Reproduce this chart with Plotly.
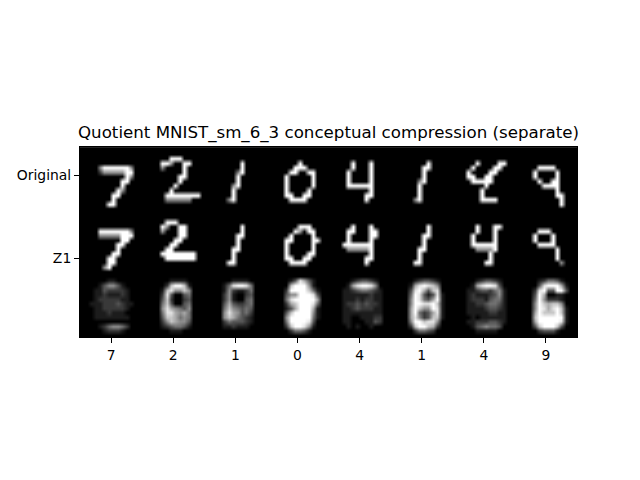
import numpy as np
import plotly.graph_objects as go

# tiles are 14x14 coarse readings of the 28x28 images ('.'=0, '-'=2, '+'=5, '#'=9, digits=grey level)
digit_labels = ["7", "2", "1", "0", "4", "1", "4", "9"]
row_labels = ["Original", "Z1"]

original = [
    ["..............", "..............", "..............", "..............",
     "....+######+..", "....-+++++##..", "..........#+..", ".........##...",
     ".........#....", "........#+....", ".......##.....", ".......#......",
     "......##......", ".............."],
    ["..............", "..............", "......###.....", "....##+..##...",
     "....+....#....", ".........#....", "........##....", "........#.....",
     ".......#......", "......#.......", ".....########.", ".....++++++...",
     "..............", ".............."],
    ["..............", "..............", "..............", "........#.....",
     "........#.....", ".......+#.....", ".......#......", ".......#......",
     "......+#......", "......#.......", "......#.......", ".....+#.......",
     "..............", ".............."],
    ["..............", "..............", "..............", ".......#......",
     "......###.....", ".....##..##...", "....#.....#...", "....#.....#...",
     "....#.....#...", "....#....#....", "....##..##....", ".....####.....",
     "..............", ".............."],
    ["..............", "..............", "..............", ".....#...#....",
     ".....#...#....", "....#....#....", "....#....#....", "....#....#....",
     "....######....", ".........#....", "........##....", "........#.....",
     "..............", ".............."],
    ["..............", "..............", "..............", "........#.....",
     ".......##.....", ".......#......", ".......#......", "......+#......",
     "......#.......", "......#.......", "......#.......", ".....+#.......",
     "..............", ".............."],
    ["..............", "..............", "..............", ".....#....##..",
     "....#....##...", "...#....##....", "...##..##.....", "....#####.....",
     ".......#......", "......#.......", "......#.......", "......####....",
     "..............", ".............."],
    ["..............", "..............", "..............", "..............",
     ".....####.....", "....#....#....", "....#....#....", ".....#..##....",
     "......####....", ".........#....", ".........##...", "..........#...",
     "..........#...", ".............."],
]

z1 = [
    ["..............", "..............", "..............", "..............",
     "....#######+..", "....+++++###..", ".........##...", "........##....",
     "........#.....", ".......##.....", "......##......", "......##......",
     ".....+#.......", ".............."],
    ["..............", "..............", ".....###......", "....#+..##....",
     "....+...##....", "........##....", ".......##.....", "......##......",
     ".....##.......", "....########..", ".....#######..", "..............",
     "..............", ".............."],
    ["..............", "..............", "..............", "........#.....",
     "........#.....", ".......##.....", ".......#......", ".......#......",
     "......##......", "......#.......", "......#.......", ".....##.......",
     "..............", ".............."],
    ["..............", "..............", "..............", ".......###....",
     "......#+.##...", ".....#....#...", "....##....##..", "....#.....#...",
     "....#.....#...", "....#....##...", "....##..##....", ".....####.....",
     "..............", ".............."],
    ["..............", "..............", "..............", ".....#...#....",
     "....##...##...", "....#....##...", "....#....#....", "...#######....",
     "....+++++#....", ".........#....", "........##....", "........#.....",
     "..............", ".............."],
    ["..............", "..............", "..............", "........#.....",
     "........#.....", ".......##.....", ".......#......", ".......#......",
     "......##......", "......#.......", "......#.......", ".....##.......",
     "..............", ".............."],
    ["..............", "..............", "..............", ".....#...##...",
     ".....#...#....", "....#....#....", "....#....#....", "....######....",
     ".....++++#....", "........#.....", "........#.....", ".......##.....",
     "..............", ".............."],
    ["..............", "..............", "..............", "..............",
     ".....###......", "....#...#.....", "....#...#.....", ".....####.....",
     ".........#....", ".........#....", ".........#....", "..........+...",
     "..............", ".............."],
]

compressed = [
    ["00000000000000", "00000011000000", "00001355310000", "00011322221000",
     "00011211121000", "00012222211000", "00111222321100", "00011222221000",
     "00011121110000", "00011111111000", "00000000000000", "00001245542000",
     "00000122210000", "00000000000000"],
    ["00000000000000", "00000011110000", "00000279971000", "00001785575000",
     "00002830034000", "00003720023000", "00004730034000", "00005865435000",
     "00004886564000", "00003776454000", "00002576553000", "00001234431000",
     "00000011100000", "00000000000000"],
    ["00000000000000", "00000011110000", "00001489984000", "00001521124000",
     "00002510023000", "00002510034000", "00003632234000", "00004754343000",
     "00005865342000", "00005764321000", "00002433321000", "00001121110000",
     "00000000000000", "00000000000000"],
    ["00000000000000", "00000138631000", "00000799951000", "00002999974100",
     "00003559998300", "00004899999600", "00002679998400", "00001369996100",
     "00003799995100", "00005999994100", "00004999983000", "00002799851000",
     "00000244310000", "00000000000000"],
    ["00000000000000", "00000123321000", "00001689985000", "00011234432100",
     "00011111121100", "00011121221100", "00012232322100", "00011232221100",
     "00011111111100", "00011001112200", "00011000113200", "00001010010000",
     "00000000000000", "00000000000000"],
    ["00000000000000", "00000123321000", "00001689875000", "00003896378000",
     "00004983138100", "00005984369100", "00005998897100", "00006975598100",
     "00006942368100", "00006852377100", "00005997885000", "00002799762000",
     "00000244320000", "00000000000000"],
    ["00000000000000", "00000123321000", "00001689983000", "00011233245100",
     "00012111235100", "00012221344100", "00011223443100", "00011112332100",
     "00011111221100", "00001011111100", "00011222332100", "00001345443000",
     "00000111110000", "00000000000000"],
    ["00000000000000", "00000124431000", "00000389996100", "00002893399300",
     "00003960011000", "00004952221000", "00005976775000", "00005986897100",
     "00006977797100", "00007999999100", "00006999998100", "00003799973000",
     "00000233310000", "00000000000000"],
]

LEVEL = {".": 0, "-": 2, "+": 5, "#": 9}


def tile_values(tile):
    return [[LEVEL[c] if c in LEVEL else int(c) for c in line] for line in tile]


def strip(tiles):
    return np.hstack([np.array(tile_values(t), dtype=float) for t in tiles])


z = np.vstack([strip(original), strip(z1), strip(compressed)])
n_rows, n_cols = z.shape
scale = 28 / 14
xs = (np.arange(n_cols) + 0.5) * scale
ys = (np.arange(n_rows) + 0.5) * scale

fig = go.Figure(go.Heatmap(
    z=z, x=xs, y=ys, zmin=0, zmax=9, zsmooth="best",
    colorscale=[[0, "black"], [1, "white"]], showscale=False, hoverinfo="skip",
))

# page body adds an 8px margin, so place everything 8px up/left
off = 8
tick_font = dict(family="DejaVu Sans", size=13.9, color="black")
fig.update_layout(
    width=640, height=480,
    margin=dict(l=0, r=0, t=0, b=0),
    paper_bgcolor="white", plot_bgcolor="black",
    xaxis=dict(domain=[(80 - off) / 640, (577 - off) / 640], range=[0, 224],
               tickvals=[14 + 28 * i for i in range(len(digit_labels))],
               ticktext=digit_labels, ticks="outside", ticklen=5, tickwidth=1.1,
               tickcolor="black", showgrid=False, zeroline=False, tickfont=tick_font,
               showline=True, linecolor="black", mirror=True),
    yaxis=dict(domain=[1 - (337.3 - off) / 480, 1 - (147.3 - off) / 480], range=[84, 0],
               tickvals=[12.5, 49], ticktext=row_labels, ticks="outside", ticklen=5,
               tickwidth=1.1, tickcolor="black", showgrid=False, zeroline=False,
               tickfont=tick_font, showline=True, linecolor="black", mirror=True),
    annotations=[dict(
        text="Quotient MNIST_sm_6_3 conceptual compression (separate)",
        xref="paper", yref="paper", x=(328.5 - off) / 640, y=1 - (133 - off) / 480,
        xanchor="center", yanchor="middle", showarrow=False,
        font=dict(family="DejaVu Sans", size=16.67, color="black"),
    )],
)

fig.write_html("out.html")
